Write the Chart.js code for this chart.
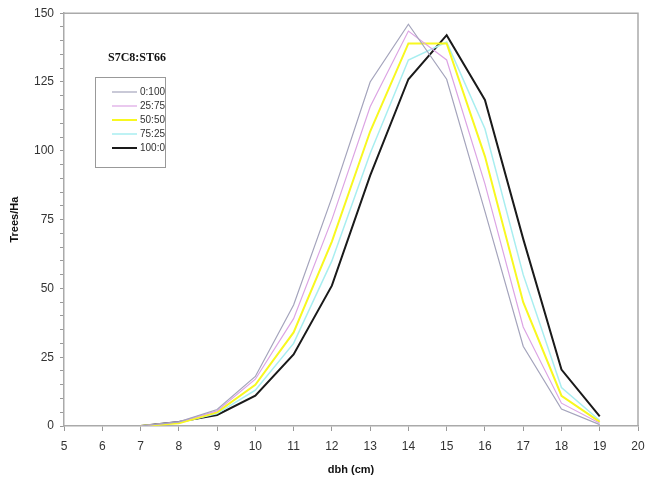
<!DOCTYPE html>
<html>
<head>
<meta charset="utf-8">
<script src="https://cdn.jsdelivr.net/npm/chart.js@4"></script>
<style>
  html, body { margin: 0; padding: 0; background: #fff; }
  #wrap { width: 645px; height: 477px; }
</style>
</head>
<body>
<div id="wrap"><canvas id="dbhChart" width="645" height="477"></canvas></div>
<script>
// Données : classes de diamètre et densités (arbres/ha)
const dbh = [7, 8, 9, 10, 11, 12, 13, 14, 15, 16, 17, 18, 19];
const mix0_100   = [0, 1.5, 6,   18, 44, 83, 125, 146,   126,   78,   29, 6.2, 0.5];
const mix25_75   = [0, 1.5, 5.5, 17, 39, 75, 116, 143.5, 133,   88,   36, 8.3, 1];
const mix50_50   = [0, 1,   5,   15, 34, 67, 107, 139,   139,   98,   45, 11,  1.5];
const mix75_25   = [0, 1.2, 4.5, 13, 30, 60,  99, 133,   139.5, 108,  55, 14,  2];
const mix100_0   = [0, 1.5, 4,   11, 26, 51,  91, 126,   142,   118.5, 68, 20.5, 3.5];
const seriesLabels = ['0:100', '25:75', '50:50', '75:25', '100:0'];
const legendTitle = 'S7C8:ST66';

const toPoints = arr => arr.map((v, i) => ({x: dbh[i], y: v}));

// Légende encadrée dessinée dans la zone du graphique
const boxLegend = {
  id: 'boxLegend',
  afterDraw(chart) {
    const ctx = chart.ctx;
    ctx.save();
    ctx.fillStyle = '#111';
    ctx.font = 'bold 12px "Liberation Serif", "Times New Roman", serif';
    ctx.textAlign = 'center';
    ctx.textBaseline = 'middle';
    ctx.fillText(legendTitle, 137, 58);
    ctx.strokeStyle = '#999';
    ctx.lineWidth = 1;
    ctx.strokeRect(95.5, 77.5, 70, 90);
    ctx.font = '10px "Liberation Sans", Arial, sans-serif';
    ctx.textAlign = 'left';
    chart.data.datasets.forEach((ds, i) => {
      const y = 92 + i * 14;
      ctx.strokeStyle = ds.borderColor;
      ctx.lineWidth = ds.borderWidth;
      ctx.beginPath();
      ctx.moveTo(112, y);
      ctx.lineTo(137, y);
      ctx.stroke();
      ctx.fillStyle = '#333';
      ctx.fillText(ds.label, 140, y);
    });
    // cadre haut et droit
    const a = chart.chartArea;
    ctx.strokeStyle = '#aaa';
    ctx.lineWidth = 1.5;
    ctx.beginPath();
    ctx.moveTo(a.left, a.top);
    ctx.lineTo(a.right, a.top);
    ctx.lineTo(a.right, a.bottom);
    ctx.stroke();
    ctx.restore();
  }
};

const ctx = document.getElementById('dbhChart').getContext('2d');
const mkSet = (label, data, color, width) => ({
  label: label,
  data: toPoints(data),
  borderColor: color,
  backgroundColor: color,
  borderWidth: width,
  pointRadius: 0,
  tension: 0,
  fill: false
});

const config = {
  type: 'line',
  data: {
    datasets: [
      mkSet(seriesLabels[0], mix0_100, '#a4a4bc', 1.2),
      mkSet(seriesLabels[1], mix25_75, '#dca4e4', 1.2),
      mkSet(seriesLabels[2], mix50_50, '#f8f820', 2),
      mkSet(seriesLabels[3], mix75_25, '#a8eef0', 1.5),
      mkSet(seriesLabels[4], mix100_0, '#1a1a1a', 2)
    ]
  },
  plugins: [boxLegend],
  options: {
    responsive: false,
    animation: false,
    layout: { padding: { top: 13, right: 0, left: 0, bottom: 0 } },
    plugins: {
      legend: { display: false },
      tooltip: { enabled: false }
    },
    scales: {
      x: {
        type: 'linear',
        min: 5,
        max: 20,
        ticks: {
          stepSize: 1,
          padding: 8,
          color: '#333',
          font: { family: '"Liberation Sans", Arial, sans-serif', size: 12 }
        },
        grid: { drawOnChartArea: false, tickLength: 5, color: '#999' },
        border: { color: '#aaa', width: 1.5 },
        title: {
          display: true,
          text: 'dbh (cm)',
          color: '#111',
          padding: { top: 0, bottom: 0 },
          font: { family: '"Liberation Sans", Arial, sans-serif', size: 11, weight: 'bold' }
        },
        afterFit: scale => { scale.height = 51; scale.paddingRight = 7; }
      },
      y: {
        min: 0,
        max: 150,
        ticks: {
          stepSize: 5,
          autoSkip: false,
          padding: 6,
          color: '#333',
          font: { family: '"Liberation Sans", Arial, sans-serif', size: 12 },
          callback: v => (v % 25 === 0 ? v : '')
        },
        grid: { drawOnChartArea: false, tickLength: 4, color: '#999' },
        border: { color: '#aaa', width: 1.5 },
        title: {
          display: true,
          text: 'Trees/Ha',
          color: '#111',
          padding: { top: 8, bottom: 0 },
          font: { family: '"Liberation Sans", Arial, sans-serif', size: 11, weight: 'bold' }
        },
        afterFit: scale => { scale.width = 64; }
      }
    }
  }
};

const dbhChart = new Chart(ctx, config);
</script>
</body>
</html>
